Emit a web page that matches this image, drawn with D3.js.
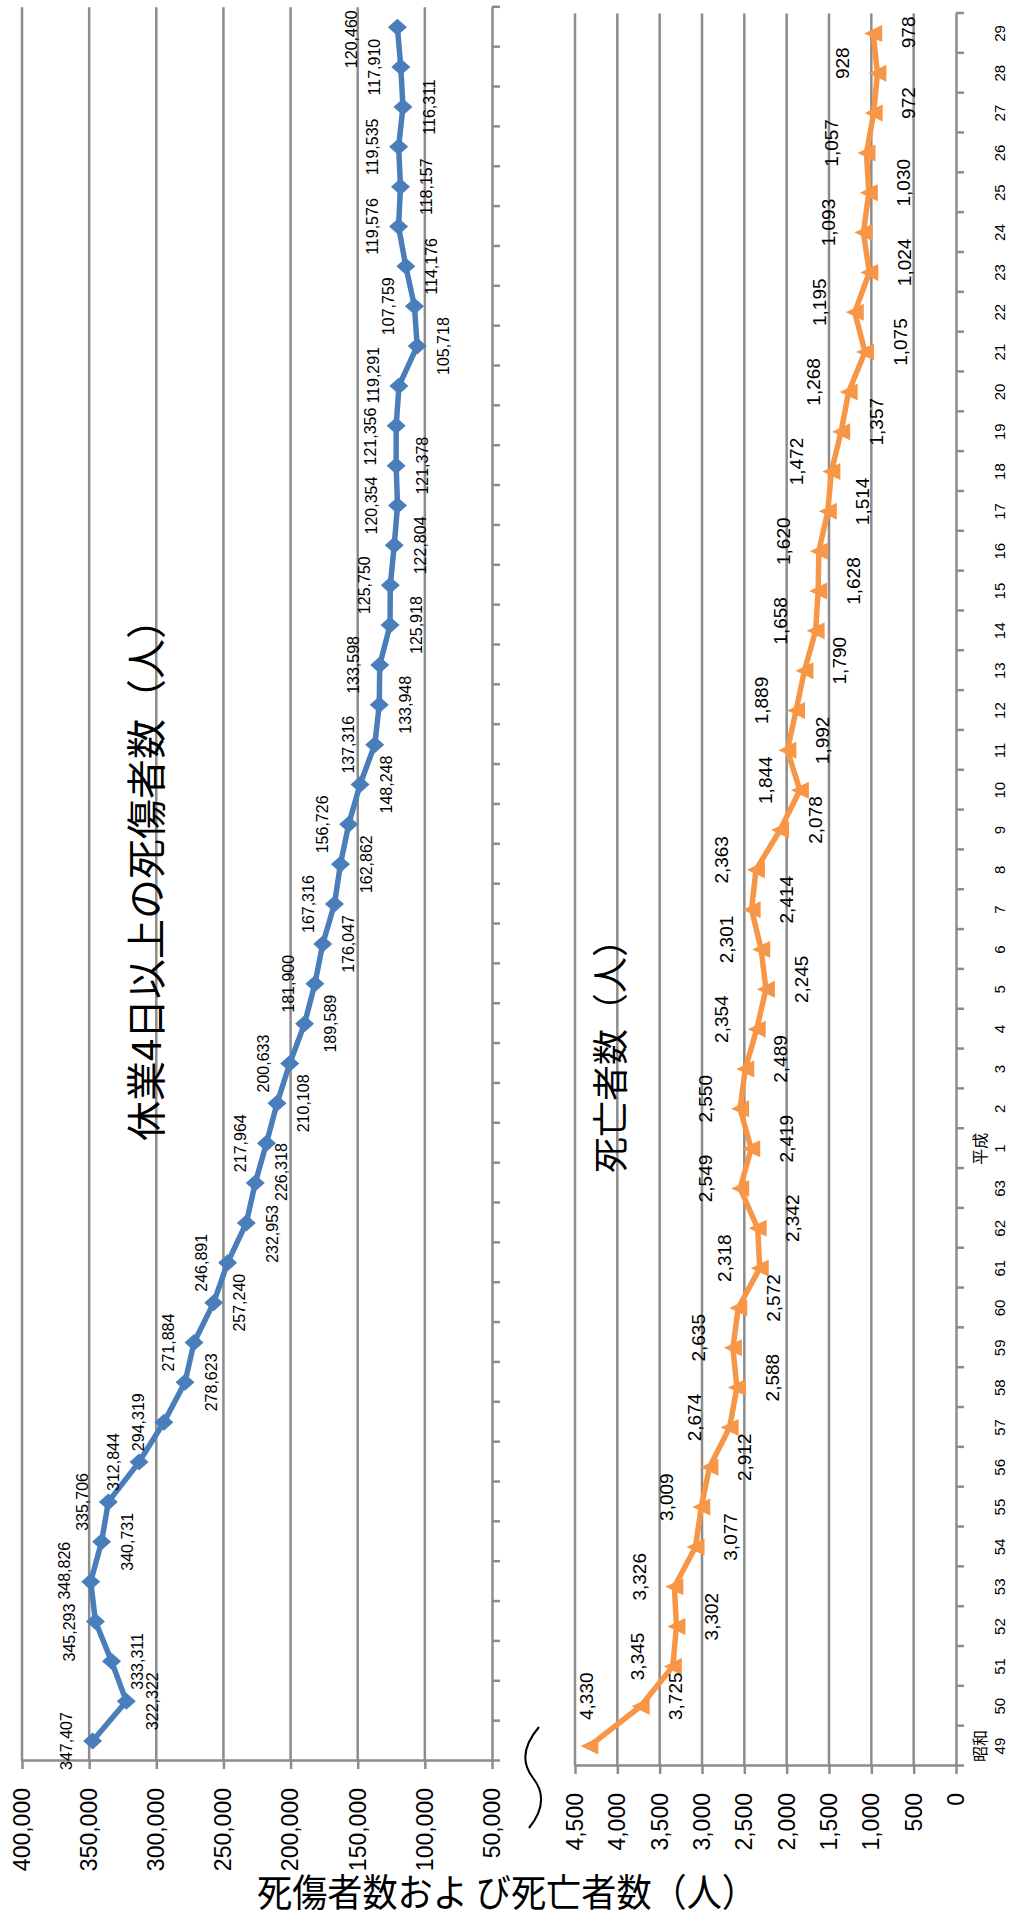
<!DOCTYPE html>
<html>
<head>
<meta charset="utf-8">
<script src="https://cdn.jsdelivr.net/npm/d3@7"></script>
<style>
  body { margin: 0; background: #fff; }
  svg text { font-family: "Liberation Sans", Arial, sans-serif; fill: #000; }
  svg .jp { font-family: "Noto Sans CJK JP", sans-serif; }
</style>
</head>
<body>
<script>
// Years: Showa 49-63, then Heisei 1-29
var showaYears = ["49","50","51","52","53","54","55","56","57","58","59","60","61","62","63"];
var heiseiYears = ["1","2","3","4","5","6","7","8","9","10","11","12","13","14","15","16","17","18","19","20","21","22","23","24","25","26","27","28","29"];
var years = showaYears.concat(heiseiYears);

// 休業4日以上の死傷者数
var injuries = [347407,322322,333311,345293,348826,340731,335706,312844,294319,278623,
  271884,257240,246891,232953,226318,217964,210108,200633,189589,181900,
  176047,167316,162862,156726,148248,137316,133948,133598,125918,125750,
  122804,120354,121378,121356,119291,105718,107759,114176,119576,118157,
  119535,116311,117910,120460];

// 死亡者数
var deaths = [4330,3725,3345,3302,3326,3077,3009,2912,2674,2588,
  2635,2572,2318,2342,2549,2419,2550,2489,2354,2245,
  2301,2414,2363,2078,1844,1992,1889,1790,1658,1628,
  1620,1514,1472,1357,1268,1075,1195,1024,1093,1030,
  1057,972,928,978];

var injuryTicks = [50000,100000,150000,200000,250000,300000,350000,400000];
var deathTicks = [0,500,1000,1500,2000,2500,3000,3500,4000,4500];

// which side of the point each data label sits on (1 = above, -1 = below)
var injurySide = [1,-1,-1,1,1,-1,1,1,1,-1, 1,-1,1,-1,-1,
  1,-1,1,-1,1,-1,1,-1,1,-1,1,-1,1,-1,1,-1,1,-1,1,
  1,-1,1,-1,1,-1,1,-1,1,1];
var deathSide = years.map((d, i) => i % 2 === 0 ? 1 : -1);

// the chart is laid out landscape (1922 x 1010) and turned a quarter to fit the page
var pageW = 1010, pageH = 1922;
var gridColor = "#8c8c8c";

var svg = d3.select("body").append("svg")
  .attr("width", pageW)
  .attr("height", pageH);

var chart = svg.append("g")
  .attr("transform", `translate(0, ${pageH}) rotate(-90)`);

// scales
var xInj = d3.scaleLinear().domain([0, years.length]).range([161, 1914.7]);
var yInj = d3.scaleLinear().domain([50000, 400000]).range([492, 22]);
var xDeath = d3.scaleLinear().domain([0, years.length]).range([156, 1908.5]);
var yDeath = d3.scaleLinear().domain([0, 4500]).range([956, 575]);

function styleAxis(sel, fontSize) {
  sel.select(".domain").attr("stroke", gridColor).attr("stroke-width", 2.5);
  sel.selectAll(".tick line").attr("stroke", gridColor).attr("stroke-width", 2.5);
  sel.selectAll(".tick text")
    .attr("font-size", fontSize)
    .attr("font-family", "Liberation Sans, Arial, sans-serif")
    .attr("fill", "#000");
  sel.attr("font-family", null).attr("font-size", null);
}

function drawPanel(xs, ys, ticks, fontSize) {
  var x0 = xs.range()[0], x1 = xs.range()[1];
  // gridlines
  chart.append("g").selectAll("line")
    .data(ticks.slice(1))
    .enter().append("line")
    .attr("x1", x0).attr("x2", x1)
    .attr("y1", d => ys(d)).attr("y2", d => ys(d))
    .attr("stroke", gridColor).attr("stroke-width", 2.5);

  // value axis
  chart.append("g")
    .attr("transform", `translate(${x0}, 0)`)
    .call(d3.axisLeft(ys).tickValues(ticks).tickFormat(d3.format(","))
      .tickSize(8).tickSizeOuter(0).tickPadding(19))
    .call(sel => styleAxis(sel, fontSize));

  // category axis, ticks between categories
  chart.append("g")
    .attr("transform", `translate(0, ${ys(ticks[0])})`)
    .call(d3.axisBottom(xs).tickValues(d3.range(years.length + 1)).tickFormat("")
      .tickSize(8).tickSizeOuter(0))
    .call(sel => styleAxis(sel, fontSize));
}

drawPanel(xInj, yInj, injuryTicks, 23);
drawPanel(xDeath, yDeath, deathTicks, 23);

// year labels under the lower panel
chart.append("g").selectAll("text")
  .data(years)
  .enter().append("text")
  .attr("x", (d, i) => xDeath(i + 0.5))
  .attr("y", 1005)
  .attr("text-anchor", "middle")
  .attr("font-size", 15)
  .text(d => d);

chart.append("text").attr("class", "jp")
  .attr("x", xDeath(0.5)).attr("y", 986)
  .attr("text-anchor", "middle").attr("font-size", 16)
  .text("昭和");
chart.append("text").attr("class", "jp")
  .attr("x", xDeath(showaYears.length + 0.5)).attr("y", 986)
  .attr("text-anchor", "middle").attr("font-size", 16)
  .text("平成");

// series
var diamond = "M0,-9.5L8.5,0L0,9.5L-8.5,0Z";
var triangle = "M0,-9L8.5,9L-8.5,9Z";

function drawSeries(values, xs, ys, color, marker, sides, offset, nudge, fontSize) {
  var line = d3.line()
    .x((d, i) => xs(i + 0.5))
    .y(d => ys(d));

  chart.append("path")
    .datum(values)
    .attr("d", line)
    .attr("fill", "none")
    .attr("stroke", color)
    .attr("stroke-width", 5.5)
    .attr("stroke-linejoin", "round");

  chart.append("g").selectAll("path")
    .data(values)
    .enter().append("path")
    .attr("d", marker)
    .attr("transform", (d, i) => `translate(${xs(i + 0.5)}, ${ys(d)})`)
    .attr("fill", color);

  var labels = chart.append("g").selectAll("text")
    .data(values)
    .enter().append("text")
    .attr("text-anchor", "middle")
    .attr("dy", "0.35em")
    .attr("font-size", fontSize)
    .text(d => d3.format(",")(d));

  // label boxes: start beside the point, then keep them inside the plot
  // and out of each other's way
  var step = xs(1) - xs(0);
  var top = d3.min(ys.range()), end = xs.range()[1];
  var boxes = values.map((d, i) => {
    var b = { x: xs(i + 0.5) + nudge, y: ys(d) - sides[i] * offset, side: sides[i] };
    b.w = labels.nodes()[i].getComputedTextLength();
    if (b.y - fontSize / 2 < top) { b.y = top + fontSize * 0.6; b.x += step; }
    return b;
  });
  [1, -1].forEach(side => {
    var row = boxes.filter(b => b.side === side);
    for (var k = 1; k < row.length; k++) {
      var a = row[k - 1], b = row[k];
      if (Math.abs(a.y - b.y) > fontSize * 0.9) continue;
      var ov = (a.w + b.w) / 2 + 4 - (b.x - a.x);
      if (ov <= 0) continue;
      if (b.x + ov / 2 + b.w / 2 > end) {
        b.y -= side * (fontSize + 4);
      } else {
        a.x -= ov / 2;
        b.x += ov / 2;
      }
    }
  });
  boxes.forEach(b => { b.x = Math.min(b.x, end - b.w / 2 - 3); });
  labels
    .attr("x", (d, i) => boxes[i].x)
    .attr("y", (d, i) => boxes[i].y);
}

drawSeries(injuries, xInj, yInj, "#4a7ebb", diamond, injurySide, 26, 0, 16);
drawSeries(deaths, xDeath, yDeath, "#f79646", triangle, deathSide, 35, 10, 19);

// panel titles
chart.append("text").attr("class", "jp")
  .attr("x", 1052).attr("y", 161)
  .attr("text-anchor", "middle").attr("font-size", 40)
  .text("休業4日以上の死傷者数（人）");
chart.append("text").attr("class", "jp")
  .attr("x", 875).attr("y", 624)
  .attr("text-anchor", "middle").attr("font-size", 36)
  .text("死亡者数（人）");

// axis title and break mark, drawn on the page itself
svg.append("text").attr("class", "jp")
  .attr("x", 257).attr("y", 1906)
  .attr("font-size", 38)
  .attr("textLength", 500)
  .attr("lengthAdjust", "spacingAndGlyphs")
  .text("死傷者数およ び死亡者数（人）");

svg.append("path")
  .attr("d", "M539,1727 Q515,1755 533,1778 T529,1828")
  .attr("fill", "none")
  .attr("stroke", "#000")
  .attr("stroke-width", 2);
</script>
</body>
</html>
